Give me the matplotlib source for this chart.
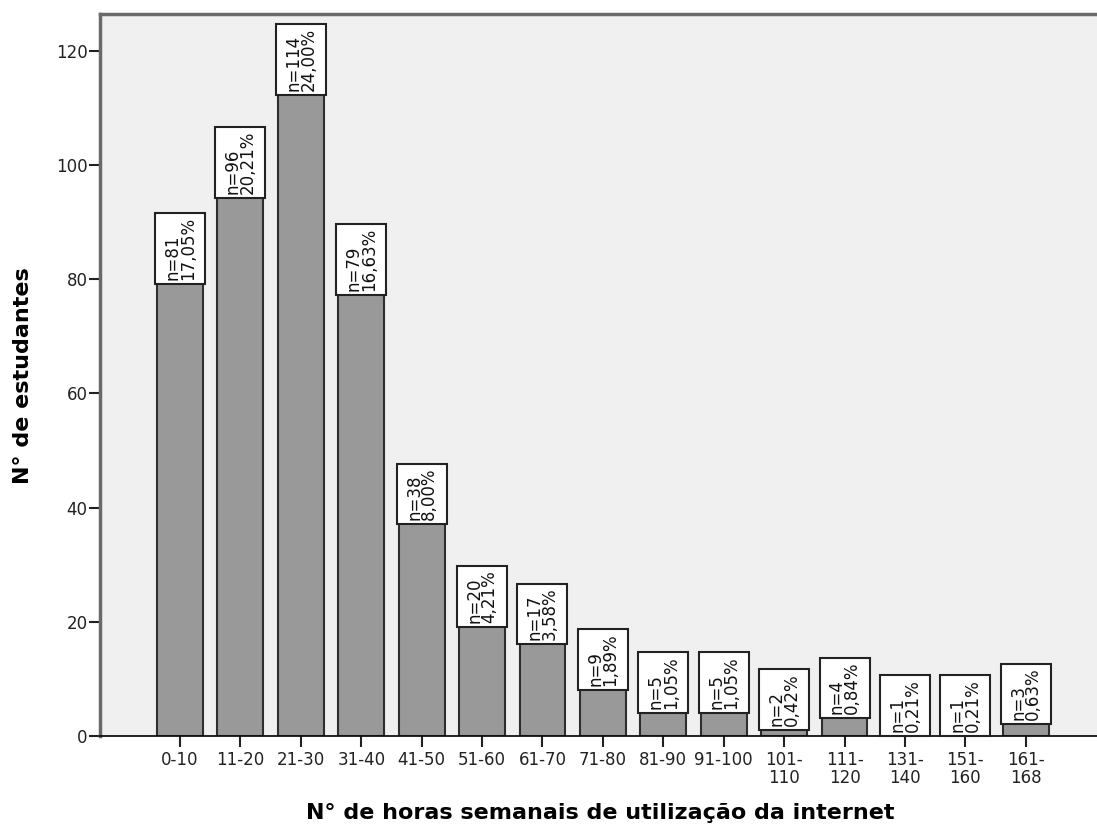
import matplotlib
matplotlib.use("Agg")
import matplotlib.pyplot as plt
from matplotlib.patches import Rectangle
from matplotlib.transforms import offset_copy
from matplotlib import font_manager

categories = ['0-10', '11-20', '21-30', '31-40', '41-50', '51-60', '61-70', '71-80',
              '81-90', '91-100', '101-\n110', '111-\n120', '131-\n140', '151-\n160', '161-\n168']
counts = [81, 96, 114, 79, 38, 20, 17, 9, 5, 5, 2, 4, 1, 1, 3]
percents = ['17,05%', '20,21%', '24,00%', '16,63%', '8,00%', '4,21%', '3,58%', '1,89%',
            '1,05%', '1,05%', '0,42%', '0,84%', '0,21%', '0,21%', '0,63%']
yticks = [0, 20, 40, 60, 80, 100, 120]

names = {f.name for f in font_manager.fontManager.ttflist}
cond = 'DejaVu Sans Condensed' in names
tick_family = 'DejaVu Sans Condensed' if cond else 'DejaVu Sans'
tick_size = 13 if cond else 12
plt.rcParams['font.family'] = ['DejaVu Sans']

W, H = 1097, 833
fig = plt.figure(figsize=(W / 100, H / 100), dpi=100)
ax = fig.add_axes([100 / W, 97 / H, 997 / W, 722 / H])
ax.set_facecolor('#f0f0f0')

x = list(range(len(categories)))
ax.bar(x, counts, width=0.76, color='#999999', edgecolor='#2e2e2e', linewidth=1.5, zorder=2)

ax.set_xlim(-1.325, 15.18)
ax.set_ylim(0, 126.4)
ax.set_yticks(yticks)
ax.set_yticklabels([str(v) for v in yticks], family=tick_family, fontsize=tick_size)
ax.set_xticks(x)
ax.set_xticklabels(categories, family=tick_family, fontsize=tick_size, linespacing=0.95)
ax.tick_params(axis='y', length=8, width=1.5, pad=1, colors='#222222')
ax.tick_params(axis='x', length=8, width=1.5, pad=3, colors='#222222')

for s in ['left', 'top']:
    ax.spines[s].set_color('#6a6a6a')
    ax.spines[s].set_linewidth(2.5)
ax.spines['right'].set_visible(False)
ax.spines['bottom'].set_color('#111111')
ax.spines['bottom'].set_linewidth(1.3)

trans = offset_copy(ax.transData, fig=fig, x=0, y=25, units='dots')
texts = []
for i, (n, p) in enumerate(zip(counts, percents)):
    t = ax.text(i, n, f"n={n}\n{p}", rotation=90, ha='center', va='center',
                multialignment='left', family=tick_family, fontsize=tick_size,
                linespacing=0.8, transform=trans, zorder=5, color='#111111')
    texts.append(t)

fig.canvas.draw()
r = fig.canvas.get_renderer()
inv = ax.transData.inverted()
for i, t in enumerate(texts):
    bb = t.get_window_extent(renderer=r)
    cx = ax.transData.transform((i, 0))[0]
    x0, y0 = inv.transform((cx - 25, bb.y0 - 4))
    x1, y1 = inv.transform((cx + 25, bb.y1 + 4))
    ax.add_patch(Rectangle((x0, y0), x1 - x0, y1 - y0, facecolor='white',
                           edgecolor='#222222', linewidth=1.5, zorder=4, clip_on=False))

fig.text(23 / W, 1 - 376 / H, 'N° de estudantes', rotation=90, ha='center', va='center',
         fontsize=16, fontweight='bold')
fig.text(600 / W, 1 - 813 / H, 'N° de horas semanais de utilização da internet',
         ha='center', va='center', fontsize=16, fontweight='bold')

fig.savefig('out.png', dpi=100)
